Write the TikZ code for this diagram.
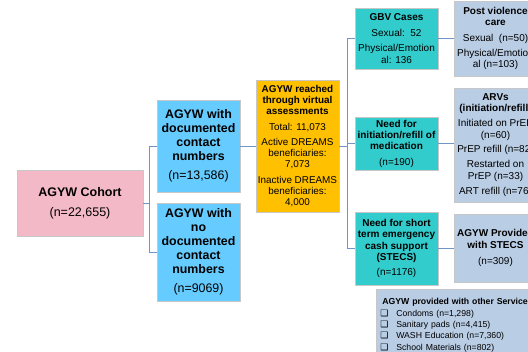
\documentclass[tikz,border=0pt]{standalone}
\usepackage{fontspec}
\setmainfont{Liberation Sans}
\newfontfamily\boxglyph{DejaVu Sans}
\usepackage{tikz}
\usetikzlibrary{positioning}
\definecolor{cohortpink}{HTML}{F4B9C6}
\definecolor{contactblue}{HTML}{66CCFF}
\definecolor{reachorange}{HTML}{FFC000}
\definecolor{needteal}{HTML}{33CCCC}
\definecolor{servblue}{HTML}{B9CDE5}
\definecolor{linkblue}{HTML}{6F95C9}

\begin{document}
\begin{tikzpicture}[x=1pt,y=-1pt,
base node/.style={rectangle,draw=black!22,line width=0.6pt,inner sep=0pt,align=center},
cohort node/.style={base node,fill=cohortpink,minimum width=126pt,font=\fontsize{12.5}{15}\selectfont},
contact node/.style={base node,fill=contactblue,minimum width=83pt,font=\fontsize{12.4}{14}\selectfont},
reach node/.style={base node,fill=reachorange,minimum width=83pt,font=\fontsize{9.9}{11.3}\selectfont},
need node/.style={base node,fill=needteal,minimum width=83pt,font=\fontsize{10}{11.3}\selectfont},
service node/.style={base node,fill=servblue,minimum width=83pt,font=\fontsize{10}{11.3}\selectfont},
link/.style={draw=linkblue,line width=0.8pt}]

\clip (0,0) rectangle (528,352);

%Cohort
\node[cohort node,minimum height=66pt] (cohort) at (80,203)
  {\textbf{AGYW Cohort}\\[5pt](n=22,655)};

%Contact numbers
\node[contact node,minimum height=92pt] (doc) at (198.5,146)
  {\textbf{AGYW with}\\\textbf{documented}\\\textbf{contact}\\\textbf{numbers}\\[5pt](n=13,586)};
\node[contact node,minimum height=98pt] (nodoc) at (198.5,252)
  {\textbf{AGYW with}\\\textbf{no}\\\textbf{documented}\\\textbf{contact}\\\textbf{numbers}\\[5pt](n=9069)};

%Virtual assessments
\node[reach node,minimum height=132pt] (virtual) at (297.5,146)
  {\textbf{AGYW reached}\\\textbf{through virtual}\\\textbf{assessments}\\[4pt]Total: 11,073\\[4pt]Active DREAMS\\beneficiaries:\\7,073\\[4pt]Inactive DREAMS\\beneficiaries:\\4,000};

%Needs
\node[need node,minimum height=61pt] (gbv) at (396.5,38.5)
  {\textbf{GBV Cases}\\[4.5pt]Sexual:\ \ 52\\[3.5pt]Physical/Emotion\\[0.5pt]al: 136};
\node[need node,minimum height=53pt] (med) at (396.5,143.5)
  {\textbf{Need for}\\\textbf{initiation/refill of}\\\textbf{medication}\\[4pt](n=190)};
\node[need node,minimum height=73pt] (stecs) at (396.5,248.5)
  {\textbf{Need for short}\\\textbf{term emergency}\\\textbf{cash support}\\\textbf{(STECS)}\\[4pt](n=1176)};

%Services
\node[service node,minimum height=75pt] (postv) at (495.5,38.5)
  {\textbf{Post violence}\\\textbf{care}\\[4.5pt]Sexual\ \ (n=50)\\[4pt]Physical/Emotion\\al (n=103)};
\node[service node,minimum height=114pt] (arvs) at (495.5,145)
  {\textbf{ARVs}\\\textbf{(initiation/refill)}\\[4pt]Initiated on PrEP\\(n=60)\\[3pt]PrEP refill (n=82)\\[4pt]Restarted on\\PrEP (n=33)\\[4pt]ART refill (n=76)};
\node[service node,minimum height=68pt] (provstecs) at (495.5,248)
  {\textbf{AGYW Provided}\\\textbf{with STECS}\\[5pt](n=309)};
\node[service node,anchor=north west,align=left,text width=168pt,minimum height=72pt,
  inner xsep=4pt,inner ysep=3pt,font=\fontsize{8.7}{11.3}\selectfont] (other) at (376,289)
  {\hspace*{2pt}\textbf{AGYW provided with other Services}\\
   \makebox[16pt][l]{\boxglyph\fontsize{9}{9}\selectfont ❑}Condoms (n=1,298)\\
   \makebox[16pt][l]{\boxglyph\fontsize{9}{9}\selectfont ❑}Sanitary pads (n=4,415)\\
   \makebox[16pt][l]{\boxglyph\fontsize{9}{9}\selectfont ❑}WASH Education (n=7,360)\\
   \makebox[16pt][l]{\boxglyph\fontsize{9}{9}\selectfont ❑}School Materials (n=802)};

%Paths
\draw[link] (cohort.east) -- ++(6,0) |- (doc.west);
\draw[link] (cohort.east) -- ++(6,0) |- (nodoc.west);
\draw[link] (doc.east) -- (virtual.west);
\draw[link] (virtual.east) -- ++(8,0) |- (gbv.west);
\draw[link] (virtual.east) -- ++(8,0) |- (med.west);
\draw[link] (virtual.east) -- ++(8,0) |- (stecs.west);
\draw[link] (gbv.east) -- (postv.west);
\draw[link] (med.east) -- (med.east -| arvs.west);
\draw[link] (stecs.east) -- (stecs.east -| provstecs.west);
\end{tikzpicture}
\end{document}
